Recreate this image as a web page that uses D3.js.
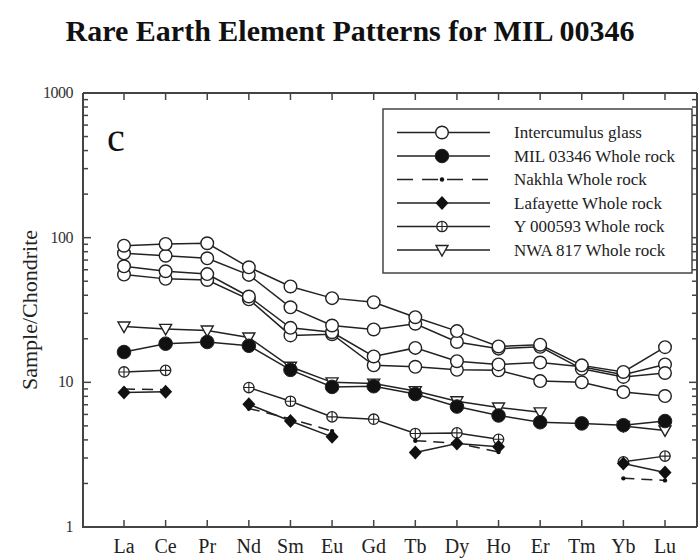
<!DOCTYPE html>
<html>
<head>
<meta charset="utf-8">
<script src="https://cdn.jsdelivr.net/npm/d3@7"></script>
<style>
  body { margin: 0; background: #fff; }
  svg text { font-family: "Liberation Serif", "Times New Roman", serif; }
</style>
</head>
<body>
<svg id="chart" width="699" height="559"></svg>
<script>
const elements = ["La","Ce","Pr","Nd","Sm","Eu","Gd","Tb","Dy","Ho","Er","Tm","Yb","Lu"];
const yTickLabels = [1, 10, 100, 1000];

// Intercumulus glass (four analyses)
const glassA = [88, 90.5, 91.5, 62.4, 46, 38.2, 35.8, 28.2, 22.6, 17.7, 18.2, 13.1, 11.8, 17.5];
const glassB = [78, 75, 72, 55.3, 33, 24.7, 23.2, 25.4, 19.0, 17.1, 17.6, 12.4, 10.9, 11.6];
const glassC = [63.4, 58.6, 56, 39.2, 23.8, 22.2, 15.1, 17.3, 14.0, 13.3, 13.7, 12.8, 11.3, 13.3];
const glassD = [55.6, 51.9, 51, 37.5, 21.1, 21.5, 13.1, 12.8, 12.2, 12.1, 10.2, 10.0, 8.57, 8.04];
const mil03346 = [16.2, 18.5, 19, 17.9, 12.2, 9.3, 9.4, 8.3, 6.8, 5.9, 5.3, 5.2, 5.05, 5.4];
const nakhla = [9.0, 8.9, null, 6.6, 5.6, 4.6, null, 3.95, 3.8, 3.3, null, null, 2.17, 2.1];
const lafayette = [8.5, 8.6, null, 7.05, 5.4, 4.2, null, 3.27, 3.78, 3.58, null, null, 2.75, 2.38];
const y000593 = [11.8, 12.1, null, 9.2, 7.4, 5.77, 5.56, 4.43, 4.47, 4.04, null, null, 2.82, 3.09];
const nwa817 = [24.3, 23.4, 22.8, 20.4, 12.8, 10.0, 9.8, 8.7, 7.4, 6.7, 6.2, null, 5.0, 4.65];

const legendLabels = ["Intercumulus glass", "MIL 03346 Whole rock", "Nakhla Whole rock",
  "Lafayette Whole rock", "Y 000593 Whole rock", "NWA 817 Whole rock"];

const svg = d3.select("#chart");
const ink = "#222";
const L = 83, R = 697, T = 93, B = 527;

const x = d3.scalePoint().domain(elements).range([124, 665]);
const y = d3.scaleLog().domain([1, 1000]).range([B, T]);

// Title
svg.append("text").attr("x", 350).attr("y", 41).attr("text-anchor", "middle")
  .attr("font-size", 30).attr("font-weight", "bold").attr("fill", "#111")
  .text("Rare Earth Element Patterns for MIL 00346");

// Frame
const frame = svg.append("g").attr("stroke", "#444").attr("stroke-width", 2).attr("fill", "none");
frame.append("path").attr("d", `M${L},${T}H${R}M${L},${T}V${B}H${R}M${R},${T}V${B}`);

// y ticks (log minor ticks), both sides
const yTicksAll = y.ticks();
const tk = svg.append("g").attr("stroke", "#444").attr("stroke-width", 1.5);
yTicksAll.forEach(v => {
  const major = Math.abs(Math.log10(v) - Math.round(Math.log10(v))) < 1e-9;
  const len = major ? 8 : 5;
  tk.append("line").attr("x1", L).attr("x2", L + len).attr("y1", y(v)).attr("y2", y(v));
  tk.append("line").attr("x1", R).attr("x2", R - len).attr("y1", y(v)).attr("y2", y(v));
});
// x ticks top & bottom
elements.forEach(e => {
  tk.append("line").attr("x1", x(e)).attr("x2", x(e)).attr("y1", B).attr("y2", B - 7);
  tk.append("line").attr("x1", x(e)).attr("x2", x(e)).attr("y1", T).attr("y2", T + 7);
});

// y tick labels
svg.append("g").selectAll("text").data(yTickLabels).join("text")
  .attr("x", 73).attr("y", d => y(d) + 5).attr("text-anchor", "end")
  .attr("font-size", 16).attr("fill", "#333").attr("letter-spacing", -0.5)
  .text(d => d);

// x labels
svg.append("g").selectAll("text").data(elements).join("text")
  .attr("x", d => x(d)).attr("y", 553).attr("text-anchor", "middle")
  .attr("font-size", 20).attr("fill", "#222").text(d => d);

// y axis title
svg.append("text").attr("transform", "translate(37,310) rotate(-90)")
  .attr("text-anchor", "middle").attr("font-size", 22).attr("fill", "#222")
  .text("Sample/Chondrite");

// panel letter
svg.append("text").attr("x", 107).attr("y", 151).attr("font-size", 40).attr("fill", "#111").text("c");

const line = d3.line().defined(d => d.v != null).x(d => x(d.e)).y(d => y(d.v));
const toPts = arr => elements.map((e, i) => ({ e, v: arr[i] }));

function drawLine(arr, dash) {
  svg.append("path").datum(toPts(arr)).attr("d", line)
    .attr("fill", "none").attr("stroke", ink).attr("stroke-width", 1.5)
    .attr("stroke-dasharray", dash || null);
}

const symbols = {
  open: (g, cx, cy) => g.append("circle").attr("cx", cx).attr("cy", cy).attr("r", 6.3)
    .attr("fill", "#fff").attr("stroke", ink).attr("stroke-width", 1.4),
  filled: (g, cx, cy) => g.append("circle").attr("cx", cx).attr("cy", cy).attr("r", 6.8)
    .attr("fill", "#111").attr("stroke", ink).attr("stroke-width", 1),
  dot: (g, cx, cy) => g.append("circle").attr("cx", cx).attr("cy", cy).attr("r", 2.2).attr("fill", "#111"),
  diamond: (g, cx, cy) => g.append("path")
    .attr("d", `M${cx},${cy - 7}L${cx + 6.5},${cy}L${cx},${cy + 7}L${cx - 6.5},${cy}Z`).attr("fill", "#111"),
  cross: (g, cx, cy) => {
    g.append("circle").attr("cx", cx).attr("cy", cy).attr("r", 5.2)
      .attr("fill", "#fff").attr("stroke", ink).attr("stroke-width", 1.3);
    g.append("path").attr("d", `M${cx - 5.2},${cy}H${cx + 5.2}M${cx},${cy - 5.2}V${cy + 5.2}`)
      .attr("stroke", ink).attr("stroke-width", 1.1);
  },
  tri: (g, cx, cy) => g.append("path")
    .attr("d", `M${cx - 6},${cy - 4.5}L${cx + 6},${cy - 4.5}L${cx},${cy + 6}Z`)
    .attr("fill", "#fff").attr("stroke", ink).attr("stroke-width", 1.4)
};

function drawMarks(arr, sym) {
  const g = svg.append("g");
  arr.forEach((v, i) => { if (v != null) symbols[sym](g, x(elements[i]), y(v)); });
}

const series = [
  { d: nwa817, s: "tri" },
  { d: y000593, s: "cross" },
  { d: nakhla, s: "dot", dash: "11,7" },
  { d: lafayette, s: "diamond" },
  { d: mil03346, s: "filled" },
  { d: glassD, s: "open" },
  { d: glassC, s: "open" },
  { d: glassB, s: "open" },
  { d: glassA, s: "open" }
];
series.forEach(s => drawLine(s.d, s.dash));
series.forEach(s => drawMarks(s.d, s.s));

// Legend
const lg = svg.append("g");
lg.append("rect").attr("x", 383).attr("y", 109).attr("width", 309).attr("height", 164)
  .attr("fill", "#fff").attr("stroke", "#444").attr("stroke-width", 1.5);
const legendSyms = ["open", "filled", "dot", "diamond", "cross", "tri"];
legendLabels.forEach((lab, i) => {
  const cy = 132.5 + i * 23.5;
  lg.append("line").attr("x1", 397).attr("x2", 490).attr("y1", cy).attr("y2", cy)
    .attr("stroke", ink).attr("stroke-width", 1.4)
    .attr("stroke-dasharray", i === 2 ? "16,9" : null);
  symbols[legendSyms[i]](lg, 442, cy);
  lg.append("text").attr("x", 514).attr("y", cy + 5.5).attr("font-size", 17).attr("fill", "#222").text(lab);
});
</script>
</body>
</html>
